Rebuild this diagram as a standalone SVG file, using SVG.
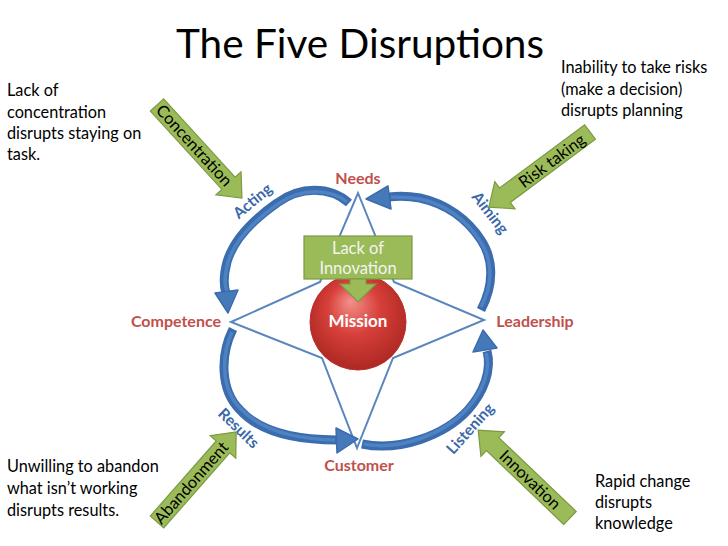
<svg xmlns="http://www.w3.org/2000/svg" width="728" height="546" viewBox="0 0 728 546">
<defs>
<radialGradient id="red" cx="0.5" cy="0.45" r="0.6" fx="0.42" fy="0.28">
<stop offset="0" stop-color="#F3908C"/>
<stop offset="0.45" stop-color="#D8403A"/>
<stop offset="1" stop-color="#A82520"/>
</radialGradient>
<style>
.t{font-family:Lato,"Open Sans","Liberation Sans",sans-serif;fill:#000}
.note{font-size:16.3px}
.node{font-size:16px;font-weight:bold;fill:#C0504D;text-anchor:middle}
.blue{font-size:15.5px;font-weight:bold;fill:#3A68A8;text-anchor:middle}
.garrow{fill:#9BBB59;stroke:#7A9A44;stroke-width:1.2}
.gtext{font-size:16.5px;text-anchor:middle}
.arcO{fill:none;stroke:#3A6CAE;stroke-width:9}
.arcI{fill:none;stroke:#4F82C2;stroke-width:3.5}
.head{fill:#4679BA;stroke:#3A6CAE;stroke-width:1.5;stroke-linejoin:round}
.wt{font-size:16.5px;text-anchor:middle;fill:#F4F4F4}
</style>
</defs>
<rect width="728" height="546" fill="#fff"/>
<text class="t" x="360" y="58" font-size="40.5" text-anchor="middle">The Five Disruptions</text>

<g id="notes">
<text class="t note" x="7" y="96">Lack of</text>
<text class="t note" x="7" y="118">concentration</text>
<text class="t note" x="7" y="139">disrupts staying on</text>
<text class="t note" x="7" y="160">task.</text>
<text class="t note" x="561" y="73">Inability to take risks</text>
<text class="t note" x="561" y="95">(make a decision)</text>
<text class="t note" x="561" y="116">disrupts planning</text>
<text class="t note" x="7" y="472">Unwilling to abandon</text>
<text class="t note" x="7" y="494">what isn’t working</text>
<text class="t note" x="7" y="516">disrupts results.</text>
<text class="t note" x="595" y="487">Rapid change</text>
<text class="t note" x="595" y="508">disrupts</text>
<text class="t note" x="595" y="529">knowledge</text>
</g>

<g id="star">
<polygon points="358,193 394,282 484,320 393,358 357,448 322,358 231,322 320,282" fill="#fff" stroke="#5A86BE" stroke-width="2" stroke-linejoin="miter"/>
</g>

<g id="mission">
<circle cx="358" cy="322" r="48" fill="url(#red)" stroke="#B8322D" stroke-width="1"/>
<text class="t" x="358" y="327" font-size="17" font-weight="bold" text-anchor="middle" style="fill:#fff">Mission</text>
</g>

<g id="lack-of-innovation">
<rect x="304" y="236" width="108" height="43" class="garrow"/>
<polygon points="350,279 366,279 366,284 376,284 358,302 340,284 350,284" class="garrow"/>
<text class="t wt" x="358" y="254">Lack of</text>
<text class="t wt" x="358" y="274">Innovation</text>
</g>

<g id="node-needs"><text class="t node" x="358" y="184">Needs</text></g>
<g id="node-competence"><text class="t node" x="176" y="327">Competence</text></g>
<g id="node-leadership"><text class="t node" x="535" y="327">Leadership</text></g>
<g id="node-customer"><text class="t node" x="359" y="471">Customer</text></g>

<g id="connectors">
<path class="arcO" d="M349,203 C330,186 300,186 277,203 C257,217 234,238 227,262 C223,277 224,287 226,293"/>
<path class="arcI" d="M347,202 C330,188 300,188 278,204 C258,218 235,239 228,262 C224,277 225,287 227,291"/>
<polygon class="head" points="215,293 238,290 228,313"/>

<path class="arcO" d="M481,310 C495,283 493,258 481,240 C468,220 447,204 420,198 C408,196 398,196 389,197"/>
<path class="arcI" d="M481,307 C494,283 492,258 480,241 C467,221 447,205 420,199 C408,197 398,197 391,197"/>
<polygon class="head" points="388,186 391,209 366,199"/>

<path class="arcO" d="M233,329 C220,355 220,390 240,410 C258,430 290,440 337,440"/>
<path class="arcI" d="M232,332 C221,356 221,390 241,409 C259,428 290,439 335,440"/>
<polygon class="head" points="336,428 337,453 358,439"/>

<path class="arcO" d="M362,444 C400,452 445,435 468,410 C484,392 492,370 487,351"/>
<path class="arcI" d="M364,444 C400,451 444,434 467,409 C483,391 491,370 486,353"/>
<polygon class="head" points="473,352 497,348 483,330"/>

<text class="t blue" transform="translate(256,205) rotate(-40)">Acting</text>
<text class="t blue" transform="translate(486,216) rotate(52)">Aiming</text>
<text class="t blue" transform="translate(235,432) rotate(44)">Results</text>
<text class="t blue" transform="translate(474,432) rotate(-48)">Listening</text>
</g>

<g id="arrow-concentration" transform="translate(157,105) rotate(47.6)">
<polygon class="garrow" points="0,-9 106,-9 106,-17 126,0 106,17 106,9 0,9"/>
<text class="t gtext" x="55" y="5.5">Concentration</text>
</g>
<g id="arrow-risk">
<polygon class="garrow" transform="translate(590,132) rotate(143.4)" points="0,-9 106,-9 106,-17 126,0 106,17 106,9 0,9"/>
<text class="t gtext" transform="translate(552,161) rotate(-36.6)" y="5.5">Risk taking</text>
</g>
<g id="arrow-abandonment" transform="translate(157,522) rotate(-48.7)">
<polygon class="garrow" points="0,-9 100,-9 100,-17 120,0 100,17 100,9 0,9"/>
<text class="t gtext" x="52" y="5.5">Abandonment</text>
</g>
<g id="arrow-innovation">
<polygon class="garrow" transform="translate(570,518) rotate(-136.3)" points="0,-9 107,-9 107,-17 127,0 107,17 107,9 0,9"/>
<text class="t gtext" transform="translate(530,480) rotate(43.7)" y="5.5">Innovation</text>
</g>
</svg>
